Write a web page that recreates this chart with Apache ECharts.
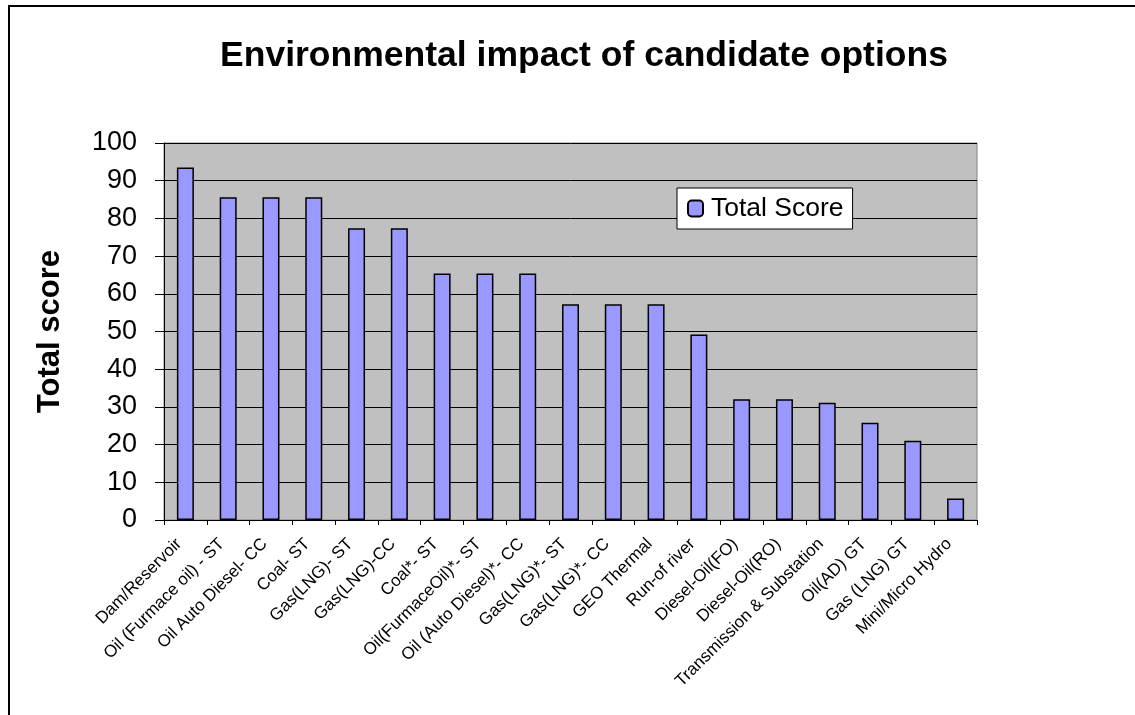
<!DOCTYPE html>
<html>
<head>
<meta charset="utf-8">
<script src="https://cdn.jsdelivr.net/npm/echarts@6/dist/echarts.min.js"></script>
<style>
  html, body { margin: 0; padding: 0; background: #ffffff; }
  #chart { width: 1135px; height: 715px; }
</style>
</head>
<body>
<div id="chart"></div>
<script>
// Candidate generation options and their total environmental score
const categories = [
  'Dam/Reservoir', 'Oil (Furmace oil) - ST', 'Oil Auto Diesel- CC', 'Coal- ST',
  'Gas(LNG)- ST', 'Gas(LNG)-CC', 'Coal*- ST', 'Oil(FurmaceOil)*- ST',
  'Oil (Auto Diesel)*- CC', 'Gas(LNG)*- ST', 'Gas(LNG)*- CC', 'GEO Thermal',
  'Run-of river', 'Diesel-Oil(FO)', 'Diesel-Oil(RO)', 'Transmission & Substation',
  'Oil(AD) GT', 'Gas (LNG) GT', 'Mini/Micro Hydro'
];
const totalScore = [
  93.5, 85.6, 85.6, 85.6,
  77.4, 77.4, 65.4, 65.4,
  65.4, 57.2, 57.2, 57.2,
  49.2, 32.0, 32.0, 31.1,
  25.8, 21.0, 5.7
];
const yTicks = { min: 0, max: 100, interval: 10 };

const FONT = 'Liberation Sans, Arial, sans-serif';
const chart = echarts.init(document.getElementById('chart'), null, { renderer: 'canvas' });

chart.setOption({
  animation: false,
  backgroundColor: '#ffffff',
  textStyle: { fontFamily: FONT, color: '#000' },
  title: {
    text: 'Environmental impact of candidate options',
    left: 579,
    top: 33,
    textAlign: 'center',
    textStyle: { fontFamily: FONT, fontSize: 35.5, fontWeight: 'bold', color: '#000' }
  },
  graphic: [
    {
      type: 'rect',
      shape: { x: 9, y: 6, width: 1140, height: 720 },
      style: { fill: 'none', stroke: '#000', lineWidth: 2 },
      silent: true
    }
  ],
  legend: {
    data: ['Total Score'],
    left: 677,
    top: 188,
    orient: 'vertical',
    backgroundColor: '#ffffff',
    borderColor: '#000',
    borderWidth: 1,
    borderRadius: 0,
    padding: [7, 9, 7, 10],
    itemWidth: 15,
    itemHeight: 16,
    itemGap: 0,
    textStyle: { fontFamily: FONT, fontSize: 26.5, color: '#000', padding: [0, 0, 0, 3] }
  },
  grid: {
    left: 164,
    top: 143,
    width: 813,
    height: 377,
    show: true,
    backgroundColor: '#c0c0c0',
    borderColor: '#808080',
    borderWidth: 1
  },
  xAxis: {
    type: 'category',
    data: categories,
    boundaryGap: true,
    axisLine: { show: true, lineStyle: { color: '#000', width: 1 } },
    axisTick: { show: true, alignWithLabel: false, length: 5, lineStyle: { color: '#000' } },
    axisLabel: {
      interval: 0,
      rotate: 45,
      margin: 15,
      padding: [0, 9, 0, 0],
      fontFamily: FONT,
      fontSize: 17,
      color: '#000'
    },
    splitLine: { show: false }
  },
  yAxis: {
    type: 'value',
    min: yTicks.min,
    max: yTicks.max,
    interval: yTicks.interval,
    name: 'Total score',
    nameLocation: 'middle',
    nameGap: 98,
    nameRotate: 90,
    nameTextStyle: { fontFamily: FONT, fontSize: 31, fontWeight: 'bold', color: '#000' },
    axisLine: { show: true, lineStyle: { color: '#000', width: 1 } },
    axisTick: { show: true, inside: false, length: 9, lineStyle: { color: '#000' } },
    axisLabel: { margin: 27, fontFamily: FONT, fontSize: 27, color: '#000' },
    splitLine: { show: true, lineStyle: { color: '#000', width: 1 } }
  },
  series: [
    {
      name: 'Total Score',
      type: 'bar',
      data: totalScore,
      barWidth: 17,
      itemStyle: { color: '#9999ff', borderColor: '#000', borderWidth: 1.5 }
    }
  ]
});
</script>
</body>
</html>
